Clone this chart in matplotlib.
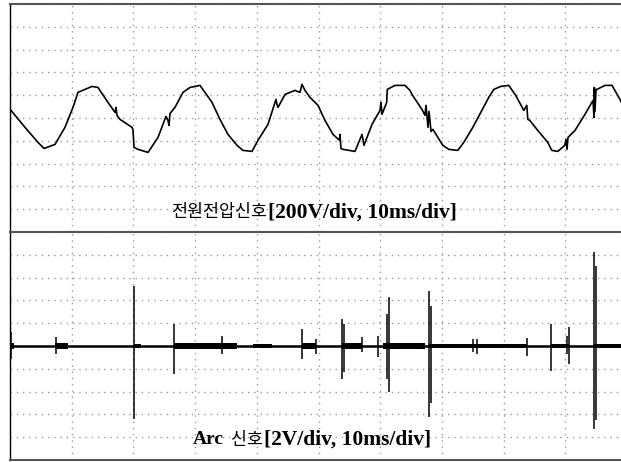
import matplotlib
matplotlib.use('Agg')
import matplotlib.pyplot as plt
import numpy as np

# supply voltage trace (ms, V)
volt_t = [0.16, 2.43, 4.54, 5.51, 7.29, 8.91, 10.21, 11.02, 12.16, 13.29, 14.26, 15.88,
          17.02, 17.18, 17.34, 17.83, 19.77, 19.93, 20.10, 20.75, 22.37, 23.99, 25.28,
          25.61, 25.77, 25.93, 26.74, 28.04, 29.17, 30.79, 32.41, 32.74, 34.03, 35.33,
          36.79, 37.76, 39.22, 40.19, 41.81, 43.11, 43.27, 43.44, 44.57, 46.19, 47.00,
          47.32, 47.81, 48.62, 49.92, 51.05, 52.35, 53.40, 53.48, 53.64, 53.97, 55.91,
          57.05, 57.21, 57.37, 58.67, 59.97, 60.13, 60.29, 61.05, 61.15, 62.40, 64.02,
          64.83, 65.15, 66.77, 67.26, 67.42, 67.75, 67.91, 68.24, 68.56, 69.34, 70.15,
          71.12, 72.58, 73.55, 75.01, 76.30, 77.60, 78.41, 79.54, 80.84, 81.97, 83.27,
          83.76, 83.92, 84.24, 85.54, 87.16, 87.81, 88.78, 89.91, 90.11, 90.27, 90.44,
          91.57, 93.19, 94.49, 94.65, 94.70, 94.81, 94.98, 95.14, 96.43, 97.57, 98.86,
          100.0]
volt_v = [67, -82, -214, -267, -232, -82, 93, 225, 251, 277, 268, 137,
          49, 93, 23, -12, -82, -100, -258, -275, -302, -170, 14,
          -22, -65, 40, 93, 225, 268, 286, 163, 137, -12, -144,
          -240, -284, -293, -196, -56, 163, 119, 93, 207, 242, 225,
          295, 242, 181, 111, -21, -144, -196, -144, -267, -275, -293,
          -144, -188, -240, -56, 67, 137, 32, 137, 251, 286, 286,
          242, 207, 75, 23, 111, -82, 58, -118, -100, -170, -240,
          -275, -284, -214, -82, 49, 181, 251, 277, 286, 198, 67,
          111, -12, -21, -109, -214, -284, -293, -240, -188, -275, -170,
          -109, 32, 154, 5, 268, 58, 251, 251, 286, 286, 163,
          32]

# arc signal: single spikes (ms, top V, bottom V)
spike_t = [0.16, 7.46, 20.10, 26.58, 34.36, 47.32, 49.59, 53.81, 54.13, 57.05, 59.64,
           61.10, 61.42, 67.91, 68.23, 75.04, 75.69, 83.79, 87.68, 90.27, 90.60,
           94.65, 94.97]
spike_hi = [1.23, 0.79, 5.26, 1.93, 0.88, 1.49, 0.61, 2.37, 1.93, 0.79, 0.88,
            2.81, 4.30, 4.82, 3.50, 0.61, 0.61, 0.70, 1.93, 0.88, 1.67,
            8.24, 7.00]
spike_lo = [-1.14, -0.70, -6.40, -2.46, -0.70, -1.14, -0.70, -2.89, -2.28, -0.53, -0.96,
            -2.89, -4.04, -6.23, -5.00, -0.53, -0.70, -0.88, -2.19, -0.70, -1.58,
            -7.28, -6.50]

# arc signal: noise bursts (start ms, end ms, half height V)
burst_start = [0.16, 7.29, 20.10, 26.58, 39.38, 47.32, 53.81, 60.45, 67.91, 87.68, 94.65]
burst_end = [0.65, 9.40, 21.23, 36.79, 42.46, 49.59, 57.05, 67.26, 83.79, 90.60, 99.0]
burst_amp = [0.22, 0.26, 0.16, 0.22, 0.18, 0.22, 0.22, 0.26, 0.2, 0.18, 0.18]

fig = plt.figure(figsize=(6.21, 4.62), dpi=100)
ax1 = fig.add_axes([10 / 621, 1 - 232 / 462, 617 / 621, 228 / 462])
ax2 = fig.add_axes([10 / 621, 1 - 460 / 462, 617 / 621, 228 / 462])

for ax, ymax in ((ax1, 1000), (ax2, 10)):
    ax.set_xlim(0, 100)
    ax.set_ylim(-ymax, ymax)
    ax.set_xticks(np.arange(0, 101, 10))
    ax.set_yticks(np.linspace(-ymax, ymax, 11))
    ax.grid(True, color='#9a9a9a', linestyle=(0, (1, 3.5)), linewidth=1)
    ax.tick_params(length=0, labelbottom=False, labelleft=False)
    for side in ('top', 'bottom', 'right'):
        ax.spines[side].set_color('#555555')
        ax.spines[side].set_linewidth(1.5)
    ax.spines['left'].set_color('black')
    ax.spines['left'].set_linewidth(1)

ax1.plot(volt_t, volt_v, color='black', linewidth=1.2)

ax2.axhline(0, color='black', linewidth=1.8)
for s, e, a in zip(burst_start, burst_end, burst_amp):
    ax2.fill_between([s, e], [-a, -a], [a, a], color='black', linewidth=0)
ax2.vlines(spike_t, spike_lo, spike_hi, color='black', linewidth=1.1)

ax1.text(41.65, -828, '전원전압신호', ha='right', va='center',
         family='Noto Sans CJK KR', fontsize=12.5)
ax1.text(41.8, -828, '[200V/div, 10ms/div]', ha='left', va='center',
         family='Liberation Serif', fontweight='bold', fontsize=15.5)

ax2.text(34.6, -8.24, 'Arc', ha='right', va='center',
         family='Liberation Serif', fontweight='bold', fontsize=14)
ax2.text(41.0, -8.24, '신호', ha='right', va='center',
         family='Noto Sans CJK KR', fontsize=12.5)
ax2.text(41.1, -8.24, '[2V/div, 10ms/div]', ha='left', va='center',
         family='Liberation Serif', fontweight='bold', fontsize=15.5)

fig.savefig('out.png', dpi=100)
